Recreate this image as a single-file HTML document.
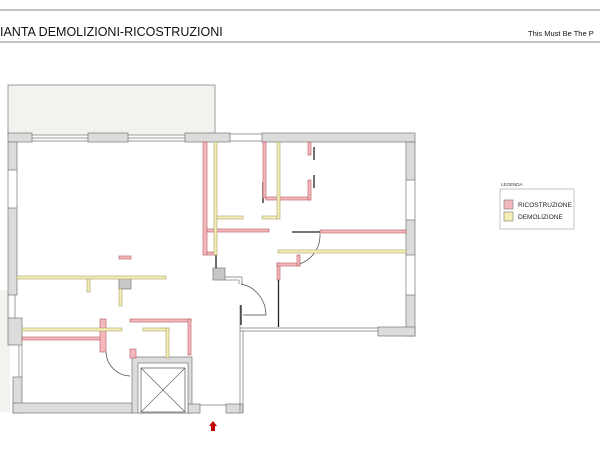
<!DOCTYPE html>
<html><head><meta charset="utf-8"><style>
html,body{margin:0;padding:0;background:#fff;}
svg{display:block;font-family:"Liberation Sans",sans-serif;}
</style></head><body>
<svg width="600" height="460" viewBox="0 0 600 460" xmlns="http://www.w3.org/2000/svg">
<rect width="600" height="460" fill="#fff"/>
<line x1="0" y1="10" x2="600" y2="10" stroke="#888" stroke-width="1"/>
<line x1="0" y1="42" x2="600" y2="42" stroke="#888" stroke-width="1"/>
<text x="0" y="36" font-size="12.5" fill="#111">IANTA DEMOLIZIONI-RICOSTRUZIONI</text>
<text x="528" y="36" font-size="7.5" fill="#111">This Must Be The P</text>

<!-- balcony -->
<rect x="8" y="85" width="207" height="50" fill="#f3f2ef" stroke="#888" stroke-width="0.8"/>
<rect x="0" y="290" width="10" height="122" fill="#f3f2ef"/>

<g fill="#dcdcdc" stroke="#777" stroke-width="0.7">
<!-- top wall -->
<rect x="8" y="133" width="24" height="9"/>
<rect x="88" y="133" width="40" height="9"/>
<rect x="185" y="133" width="45" height="9"/>
<rect x="262" y="133" width="153" height="9"/>
<!-- left wall -->
<rect x="8" y="142" width="9" height="28"/>
<rect x="8" y="208" width="9" height="87"/>
<rect x="8" y="318" width="14" height="27"/>
<rect x="13" y="377" width="9" height="36"/>
<rect x="13" y="403" width="120" height="10"/>
<!-- right wall -->
<rect x="406" y="142" width="9" height="38"/>
<rect x="406" y="220" width="9" height="35"/>
<rect x="406" y="295" width="9" height="41"/>
<rect x="378" y="327" width="37" height="9"/>
<!-- elevator frame -->
<rect x="132" y="357" width="60" height="56"/>
<!-- corridor bottom -->
<rect x="188" y="404" width="12" height="9"/>
<rect x="226" y="404" width="17" height="9"/>
<!-- gray blocks -->
<rect x="213" y="268" width="12" height="12" fill="#c8c8c8"/>
<rect x="119" y="277" width="12" height="12" fill="#c8c8c8"/>
</g>
<rect x="138" y="363" width="50" height="50" fill="#fff" stroke="#777" stroke-width="0.7"/>
<rect x="141" y="368" width="44" height="44" fill="#fff" stroke="#555" stroke-width="0.7"/>
<line x1="141" y1="368" x2="185" y2="412" stroke="#555" stroke-width="0.6"/>
<line x1="185" y1="368" x2="141" y2="412" stroke="#555" stroke-width="0.6"/>

<!-- thin wall lines between top segments -->
<g stroke="#777" stroke-width="0.7" fill="none">
<line x1="32" y1="138" x2="88" y2="138"/><line x1="32" y1="141" x2="88" y2="141"/>
<line x1="128" y1="138" x2="185" y2="138"/><line x1="128" y1="141" x2="185" y2="141"/>
<line x1="230" y1="134" x2="262" y2="134"/><line x1="230" y1="141" x2="262" y2="141"/>
<line x1="8" y1="170" x2="8" y2="208"/><line x1="17" y1="170" x2="17" y2="208"/>
<line x1="8" y1="295" x2="8" y2="318"/><line x1="15" y1="295" x2="15" y2="318"/>
<line x1="406" y1="180" x2="406" y2="220"/><line x1="415" y1="180" x2="415" y2="220"/>
<line x1="406" y1="255" x2="406" y2="295"/><line x1="415" y1="255" x2="415" y2="295"/>
<line x1="19" y1="345" x2="19" y2="377"/><line x1="22" y1="345" x2="22" y2="377"/>
<line x1="240" y1="328" x2="378" y2="328"/><line x1="240" y1="331" x2="378" y2="331"/>
<line x1="240" y1="305" x2="240" y2="413"/><line x1="243" y1="331" x2="243" y2="413"/>
<line x1="200" y1="405" x2="226" y2="405"/>
<line x1="225" y1="277" x2="242" y2="277"/><line x1="225" y1="280" x2="239" y2="280"/>
<line x1="239" y1="280" x2="239" y2="284"/><line x1="242" y1="277" x2="242" y2="284"/>
</g>
<g stroke="#222" stroke-width="1.3" fill="none">
<line x1="216" y1="255" x2="216" y2="268"/>
<line x1="278.5" y1="280" x2="278.5" y2="327"/>
<line x1="263" y1="182" x2="263" y2="203"/>
<line x1="292" y1="232" x2="320" y2="232"/>
<line x1="241" y1="305" x2="241" y2="325"/>
<line x1="314" y1="147" x2="314" y2="160"/>
<line x1="314" y1="175" x2="314" y2="188"/>
</g>
<!-- doors -->
<g stroke="#444" stroke-width="0.7" fill="none">
<path d="M241 284 A30 32 0 0 1 266 315 L243 315"/>
<path d="M320 234 A30 30 0 0 1 295 265"/>
<path d="M106 352 A25 25 0 0 0 130 376"/>
</g>

<!-- pink walls -->
<g fill="#f4b9bc" stroke="#b35a5f" stroke-width="0.6">
<rect x="203" y="142" width="4" height="113"/>
<rect x="207" y="252" width="8" height="3"/>
<rect x="207" y="229" width="62" height="3"/>
<rect x="263" y="142" width="3" height="56"/>
<rect x="266" y="197" width="44" height="3"/>
<rect x="308" y="180" width="3" height="20"/>
<rect x="308" y="142" width="3" height="13"/>
<rect x="320" y="230" width="86" height="3"/>
<rect x="277" y="263" width="3" height="17"/>
<rect x="277" y="263" width="23" height="3"/>
<rect x="297" y="255" width="3" height="11"/>
<rect x="119" y="256" width="12" height="3"/>
<rect x="22" y="337" width="80" height="3"/>
<rect x="100" y="319" width="6" height="33"/>
<rect x="130" y="319" width="61" height="3"/>
<rect x="188" y="319" width="3" height="36"/>
<rect x="130" y="349" width="6" height="9"/>
</g>
<!-- yellow walls -->
<g fill="#f6efb4" stroke="#a8a070" stroke-width="0.6">
<rect x="214" y="142" width="3" height="113"/>
<rect x="217" y="216" width="26" height="3"/>
<rect x="262" y="216" width="15" height="3"/>
<rect x="277" y="142" width="3" height="77"/>
<rect x="278" y="250" width="128" height="3"/>
<rect x="17" y="276" width="149" height="3"/>
<rect x="87" y="279" width="3" height="13"/>
<rect x="119" y="289" width="3" height="17"/>
<rect x="22" y="328" width="100" height="3"/>
<rect x="143" y="328" width="26" height="3"/>
<rect x="166" y="328" width="3" height="30"/>
</g>

<!-- arrow -->
<path d="M213 421 L217 426 L215 426 L215 431 L211 431 L211 426 L209 426 Z" fill="#b00"/>

<!-- legend -->
<text x="501" y="186" font-size="4.5" fill="#333">LEGENDA</text>
<rect x="500" y="189" width="74" height="40" fill="#fff" stroke="#aaa" stroke-width="0.7"/>
<rect x="504" y="200" width="9" height="9" fill="#f4b9bc" stroke="#777" stroke-width="0.6"/>
<rect x="504" y="212" width="9" height="9" fill="#f6efb4" stroke="#777" stroke-width="0.6"/>
<text x="518" y="207" font-size="6.5" fill="#222">RICOSTRUZIONE</text>
<text x="518" y="219" font-size="6.5" fill="#222">DEMOLIZIONE</text>
</svg>
</body></html>
